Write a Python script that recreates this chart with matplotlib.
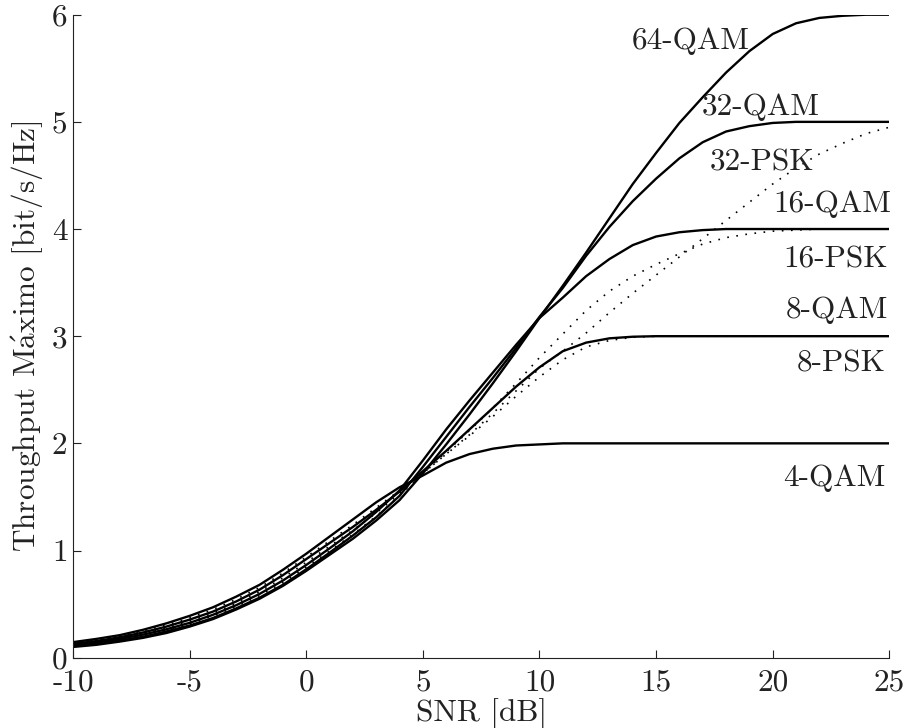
import numpy as np
import matplotlib.pyplot as plt

plt.rcParams['font.family'] = 'cmr10'
plt.rcParams['mathtext.fontset'] = 'cm'
plt.rcParams['axes.unicode_minus'] = False

# SNR grid in dB
snr = np.arange(-10, 26)

# throughput curves [bit/s/Hz]
qam4 = [0.145, 0.175, 0.21, 0.26, 0.32, 0.39, 0.47, 0.57, 0.68, 0.82, 0.97, 1.13, 1.29, 1.45, 1.59, 1.70,
        1.82, 1.90, 1.95, 1.98, 1.99, 2.0, 2.0, 2.0, 2.0, 2.0, 2.0, 2.0, 2.0, 2.0, 2.0, 2.0, 2.0, 2.0, 2.0, 2.0]
qam8 = [0.13, 0.155, 0.19, 0.235, 0.29, 0.355, 0.43, 0.525, 0.635, 0.77, 0.92, 1.07, 1.22, 1.38, 1.55, 1.74,
        1.93, 2.13, 2.33, 2.53, 2.71, 2.86, 2.94, 2.98, 2.995, 3.0, 3.0, 3.0, 3.0, 3.0, 3.0, 3.0, 3.0, 3.0, 3.0, 3.0]
qam16 = [0.12, 0.145, 0.175, 0.215, 0.265, 0.325, 0.40, 0.49, 0.595, 0.72, 0.865, 1.02, 1.18, 1.36, 1.56, 1.84,
         2.13, 2.40, 2.66, 2.92, 3.17, 3.36, 3.56, 3.72, 3.85, 3.93, 3.97, 3.99, 4.0, 4.0, 4.0, 4.0, 4.0, 4.0, 4.0, 4.0]
qam32 = [0.11, 0.13, 0.16, 0.195, 0.245, 0.30, 0.37, 0.46, 0.56, 0.68, 0.825, 0.98, 1.14, 1.31, 1.51, 1.78,
         2.06, 2.34, 2.61, 2.89, 3.18, 3.45, 3.75, 4.02, 4.26, 4.47, 4.66, 4.81, 4.91, 4.96, 4.99, 5.0, 5.0, 5.0, 5.0, 5.0]
qam64 = [0.10, 0.12, 0.15, 0.185, 0.23, 0.29, 0.36, 0.45, 0.55, 0.67, 0.81, 0.96, 1.11, 1.28, 1.47, 1.72,
         1.99, 2.27, 2.56, 2.86, 3.17, 3.47, 3.78, 4.10, 4.42, 4.71, 4.99, 5.23, 5.46, 5.66, 5.82, 5.92, 5.97, 5.99, 6.0, 6.0]
psk8 = [0.14, 0.165, 0.20, 0.25, 0.305, 0.37, 0.45, 0.545, 0.655, 0.79, 0.94, 1.09, 1.24, 1.40, 1.56, 1.72,
        1.90, 2.07, 2.25, 2.44, 2.62, 2.78, 2.90, 2.96, 2.99, 3.0, 3.0, 3.0, 3.0, 3.0, 3.0, 3.0, 3.0, 3.0, 3.0, 3.0]
psk16 = [0.125, 0.15, 0.18, 0.225, 0.275, 0.34, 0.415, 0.505, 0.615, 0.745, 0.89, 1.04, 1.19, 1.35, 1.53, 1.72,
         1.92, 2.12, 2.33, 2.56, 2.80, 3.02, 3.24, 3.42, 3.56, 3.67, 3.77, 3.86, 3.92, 3.955, 3.98, 3.99, 4.0, 4.0, 4.0, 4.0]
psk32 = [0.115, 0.14, 0.17, 0.205, 0.255, 0.315, 0.39, 0.475, 0.58, 0.70, 0.845, 0.995, 1.15, 1.32, 1.51, 1.72,
         1.90, 2.08, 2.28, 2.49, 2.70, 2.86, 3.03, 3.22, 3.40, 3.57, 3.74, 3.91, 4.08, 4.25, 4.42, 4.57, 4.70, 4.80, 4.89, 4.95]

x_ticks = [-10, -5, 0, 5, 10, 15, 20, 25]
y_ticks = [0, 1, 2, 3, 4, 5, 6]

fig = plt.figure(figsize=(9.07, 7.28), dpi=100)
ax = fig.add_axes([0.0805, 0.0966, 0.900, 0.8832])

for y in [qam4, qam8, qam16, qam32, qam64]:
    ax.plot(snr, y, color='black', linewidth=1.7, solid_joinstyle='round')
for y in [psk8, psk16, psk32]:
    ax.plot(snr, y, color='black', linewidth=1.2, linestyle=(0, (1, 4.5)))

ax.set_xlim(-10, 25)
ax.set_ylim(0, 6)
ax.spines['top'].set_visible(False)
ax.spines['right'].set_visible(False)
for s in ['left', 'bottom']:
    ax.spines[s].set_linewidth(0.8)
    ax.spines[s].set_color('#222222')

fs = 22.5
ax.set_xticks(x_ticks)
ax.set_xticklabels([str(v) for v in x_ticks])
ax.set_yticks(y_ticks)
ax.set_yticklabels([str(v) for v in y_ticks])
ax.tick_params(direction='in', length=6, width=0.8, colors='#222222', labelsize=fs)
ax.tick_params(axis='x', pad=8)
ax.tick_params(axis='y', pad=4)

ax.set_xlabel('SNR [dB]', fontsize=fs, color='#222222', labelpad=1)
ax.set_ylabel(r'Throughput M$\mathrm{\acute{a}}$ximo [bit/s/Hz]', fontsize=fs, color='#222222', labelpad=5)

# curve labels
lab = dict(fontsize=fs, color='#222222', va='baseline')
ax.text(19.0, 5.68, '64-QAM', ha='right', **lab)
ax.text(22.0, 5.06, '32-QAM', ha='right', **lab)
ax.text(21.8, 4.55, '32-PSK', ha='right', **lab)
ax.text(25.1, 4.16, '16-QAM', ha='right', **lab)
ax.text(24.95, 3.64, '16-PSK', ha='right', **lab)
ax.text(24.95, 3.17, '8-QAM', ha='right', **lab)
ax.text(24.85, 2.67, '8-PSK', ha='right', **lab)
ax.text(24.85, 1.60, '4-QAM', ha='right', **lab)

fig.savefig('out.png', dpi=100)
